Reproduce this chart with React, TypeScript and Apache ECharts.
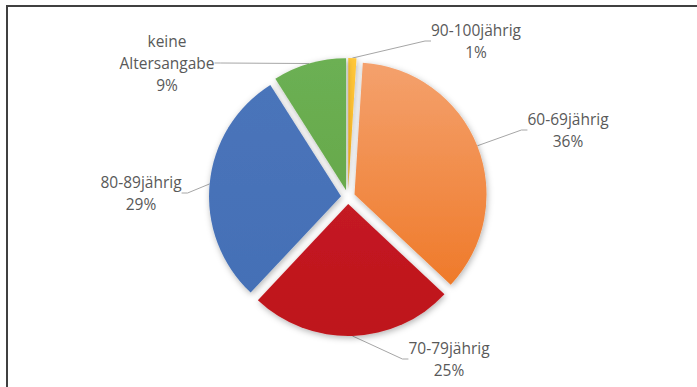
import React, { useEffect, useRef } from "react";
import * as echarts from "echarts";

const categories = ["90-100jährig", "60-69jährig", "70-79jährig", "80-89jährig", "keine Altersangabe"];
const shares = [1, 36, 25, 29, 9];
const colorsTop = ["#FFC73A", "#F4A16D", "#C41A22", "#4A74BA", "#6CB053"];
const colorsBottom = ["#FAB320", "#EF7A2A", "#BE151C", "#4470B6", "#67A94C"];
// label block centres (px)
const labelPos: [number, number][] = [
  [476, 41],
  [568, 130],
  [449, 359],
  [141, 193],
  [167, 63],
];

const CX = 348;
const CY = 197;
const R = 132;
const EXPLODE = 7;

export default function App() {
  const ref = useRef<HTMLDivElement>(null);
  useEffect(() => {
    if (!ref.current) return;
    const chart = echarts.init(ref.current, null, { renderer: "svg" });
    const total = shares.reduce((a, b) => a + b, 0);
    let acc = 0;
    const series = categories.map((_, i) => {
      const mid = 90 - ((acc + shares[i] / 2) / total) * 360;
      acc += shares[i];
      const rad = (mid * Math.PI) / 180;
      const center = [CX + EXPLODE * Math.cos(rad), CY - EXPLODE * Math.sin(rad)];
      return {
        type: "pie",
        center,
        radius: [0, R],
        startAngle: 90,
        clockwise: true,
        percentPrecision: 0,
        silent: true,
        emphasis: { disabled: true },
        data: categories.map((name, j) => ({
          name,
          value: shares[j],
          itemStyle:
            j === i
              ? {
                  color: new echarts.graphic.LinearGradient(0, 0, 0, 1, [
                    { offset: 0, color: colorsTop[j] },
                    { offset: 1, color: colorsBottom[j] },
                  ]),
                  shadowBlur: 6,
                  shadowColor: "rgba(0,0,0,0.3)",
                  shadowOffsetX: 1,
                  shadowOffsetY: 2,
                }
              : { color: "rgba(0,0,0,0)" },
          label: { show: j === i },
          labelLine: { show: j === i },
        })),
        label: {
          position: "outside",
          formatter: (p: any) => `${String(p.name).replace(" ", "\n")}\n${p.percent}%`,
          color: "#595959",
          fontFamily: "Open Sans",
          fontSize: 15.5,
          lineHeight: 22,
          align: "center",
        },
        labelLine: {
          length: 10,
          length2: 6,
          lineStyle: { color: "#A6A6A6", width: 1 },
        },
        labelLayout: (params: any) => {
          if (params.dataIndex !== i) return {};
          const [x, y] = labelPos[i];
          return { x, y, align: "center", verticalAlign: "middle" };
        },
      };
    });
    chart.setOption({
      animation: false,
      backgroundColor: "#ffffff",
      series,
    });
    return () => chart.dispose();
  }, []);
  return (
    <div style={{ position: "fixed", left: 0, top: 0, width: 697, height: 387, background: "#fff" }}>
      <div ref={ref} style={{ position: "absolute", left: 0, top: 0, width: 697, height: 387 }} />
      <div
        style={{
          position: "absolute",
          left: 6,
          top: 5,
          right: 0,
          bottom: 0,
          borderTop: "2px solid #404040",
          borderLeft: "2px solid #404040",
          pointerEvents: "none",
        }}
      />
    </div>
  );
}
